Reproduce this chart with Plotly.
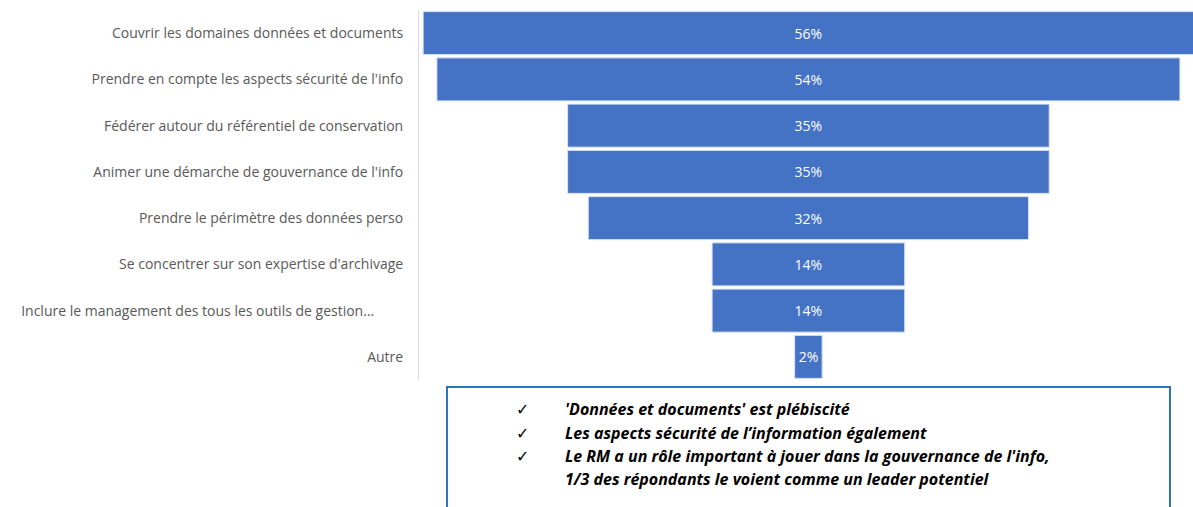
import plotly.graph_objects as go

categories = [
    "Couvrir les domaines données et documents",
    "Prendre en compte les aspects sécurité de l'info",
    "Fédérer autour du référentiel de conservation",
    "Animer une démarche de gouvernance de l'info",
    "Prendre le périmètre des données perso",
    "Se concentrer sur son expertise d'archivage",
    "Inclure le management des tous les outils de gestion…",
    "Autre",
]
values = [56, 54, 35, 35, 32, 14, 14, 2]
value_labels = ["56%", "54%", "35%", "35%", "32%", "14%", "14%", "2%"]
tick_text = [
    "Couvrir les domaines données et documents",
    "Prendre en compte les aspects sécurité de l'info",
    "Fédérer autour du référentiel de conservation",
    "Animer une démarche de gouvernance de l'info",
    "Prendre le périmètre des données perso",
    "Se concentrer sur son expertise d'archivage",
    "Inclure le management des tous les outils de gestion…" + "\u00a0" * 8,
    "Autre",
]
notes = [
    "'Données et documents' est plébiscité",
    "Les aspects sécurité de l’information également",
    "Le RM a un rôle important à jouer dans la gouvernance de l'info,",
    "1/3 des répondants le voient comme un leader potentiel",
]
note_checks = [True, True, True, False]

W, H = 1193, 507
ML, MR, MT, MB = 419, 0, 10, 127
PW, PH = W - ML - MR, H - MT - MB

def px_x(p):
    return (p - ML) / PW

def px_y(p):
    return (H - MB - p) / PH

fig = go.Figure()
fig.add_trace(go.Funnel(
    y=categories,
    x=values,
    text=value_labels,
    textinfo="text",
    textposition="inside",
    insidetextanchor="middle",
    textfont=dict(color="white", size=14, family="Open Sans"),
    marker=dict(color="#4472C4", line=dict(color="#DCE4F2", width=1)),
    connector=dict(visible=False),
    hoverinfo="x+y",
))

fig.update_layout(
    width=W, height=H,
    margin=dict(l=ML, r=MR, t=MT, b=MB),
    paper_bgcolor="white", plot_bgcolor="white",
    funnelgap=0.07,
    showlegend=False,
    xaxis=dict(visible=False, range=[-28.3, 27.95]),
    yaxis=dict(
        type="category",
        categoryorder="array", categoryarray=categories,
        autorange="reversed",
        tickvals=categories, ticktext=tick_text,
        showline=True, linecolor="#D9D9D9", linewidth=1,
        showgrid=False, zeroline=False,
        ticks="", ticklabelstandoff=12,
        tickfont=dict(family="Open Sans", size=14, color="#595959"),
    ),
)

# text box
fig.add_shape(
    type="rect", xref="paper", yref="paper",
    x0=px_x(447), x1=px_x(1170), y0=px_y(387), y1=px_y(530),
    line=dict(color="#2E75B6", width=2), fillcolor="rgba(0,0,0,0)",
    layer="above",
)

line_y = [409, 433, 456, 479]
for txt, chk, yy in zip(notes, note_checks, line_y):
    if chk:
        fig.add_annotation(
            xref="paper", yref="paper", x=px_x(514), y=px_y(yy),
            text="✓", showarrow=False, xanchor="left", yanchor="middle",
            font=dict(family="DejaVu Sans", size=16, color="black"),
        )
    fig.add_annotation(
        xref="paper", yref="paper", x=px_x(563), y=px_y(yy),
        text="<b><i>" + txt + "</i></b>", showarrow=False,
        xanchor="left", yanchor="middle",
        font=dict(family="Open Sans", size=16, color="black"),
    )

fig.write_html("out.html")
